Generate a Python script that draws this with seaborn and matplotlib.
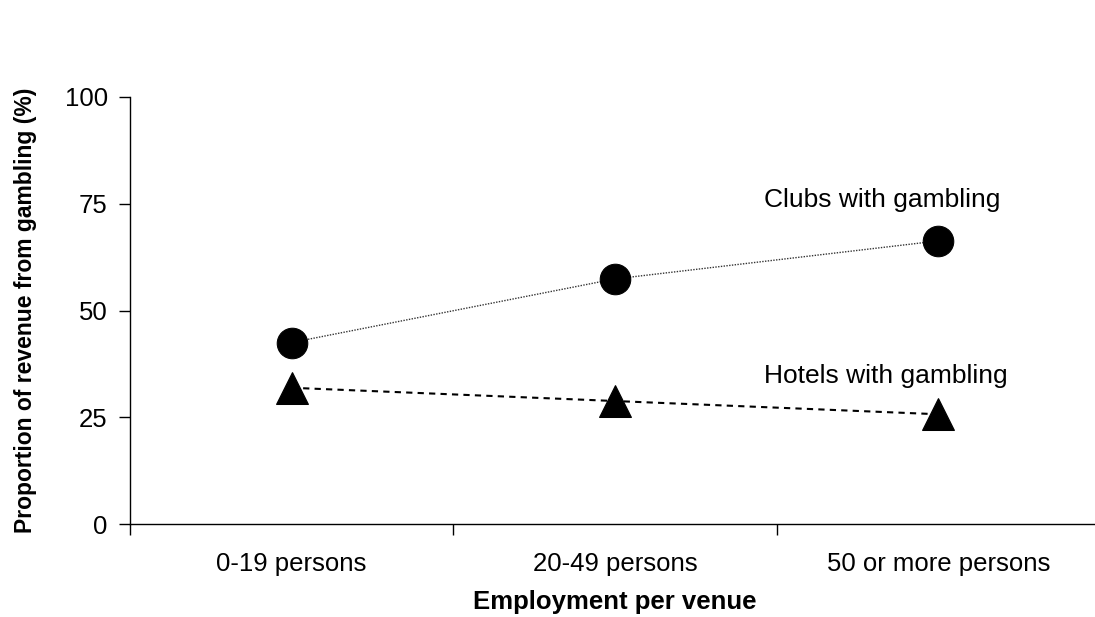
import numpy as np
import pandas as pd
import matplotlib
matplotlib.use('Agg')
import matplotlib.pyplot as plt
import seaborn as sns

# data
categories = ['0-19 persons', '20-49 persons', '50 or more persons']
clubs = [42.5, 57.4, 66.3]
hotels = [31.9, 28.8, 25.7]
y_ticks = [0, 25, 50, 75, 100]

sns.set_theme(style='white')
plt.rcParams['font.family'] = ['Liberation Sans', 'DejaVu Sans']
plt.rcParams['text.color'] = 'black'
plt.rcParams['axes.labelcolor'] = 'black'
plt.rcParams['xtick.color'] = 'black'
plt.rcParams['ytick.color'] = 'black'

pos = np.arange(len(categories))
df = pd.DataFrame({'pos': pos, 'clubs': clubs, 'hotels': hotels})

fig = plt.figure(figsize=(10.95, 6.17), dpi=100)
ax = fig.add_axes([130/1095, 1 - 524/617, 970/1095, 427/617])

# clubs: thin dotted line with circles
sns.lineplot(data=df, x='pos', y='clubs', ax=ax, color='#333333',
             linewidth=1, linestyle=(0, (1, 1)), marker='o', markersize=22,
             markerfacecolor='black', markeredgecolor='black')
# hotels: dashed line with triangles
sns.lineplot(data=df, x='pos', y='hotels', ax=ax, color='black',
             linewidth=1.5, linestyle=(0, (3, 2.5)), marker='^', markersize=23,
             markerfacecolor='black', markeredgecolor='black')

ax.text(1.46, 75.9, 'Clubs with gambling', fontsize=19, va='center', ha='left')
ax.text(1.46, 34.7, 'Hotels with gambling', fontsize=19, va='center', ha='left')

ax.set_xlim(-0.5, len(categories) - 0.5)
ax.set_ylim(0, 100)
ax.set_yticks(y_ticks)
ax.set_yticklabels([str(v) for v in y_ticks])
ax.set_xticks(np.arange(len(categories) + 1) - 0.5)
ax.set_xticklabels([])
ax.set_xticks(pos, minor=True)
ax.set_xticklabels(categories, minor=True)

ax.tick_params(axis='y', which='major', direction='out', length=8, width=1,
               labelsize=18.5, pad=8, left=True)
ax.tick_params(axis='x', which='major', direction='out', length=8, width=1,
               bottom=True)
ax.tick_params(axis='x', which='minor', length=0, labelsize=18.5, pad=20)

for s in ['top', 'right']:
    ax.spines[s].set_visible(False)
for s in ['left', 'bottom']:
    ax.spines[s].set_color('black')
    ax.spines[s].set_linewidth(1)

ax.set_xlabel('Employment per venue', fontsize=18.5, fontweight='bold', labelpad=10)
ax.set_ylabel('Proportion of revenue from gambling (%)', fontsize=16.5,
              fontweight='bold', labelpad=20)

fig.savefig('out.png', dpi=100)
